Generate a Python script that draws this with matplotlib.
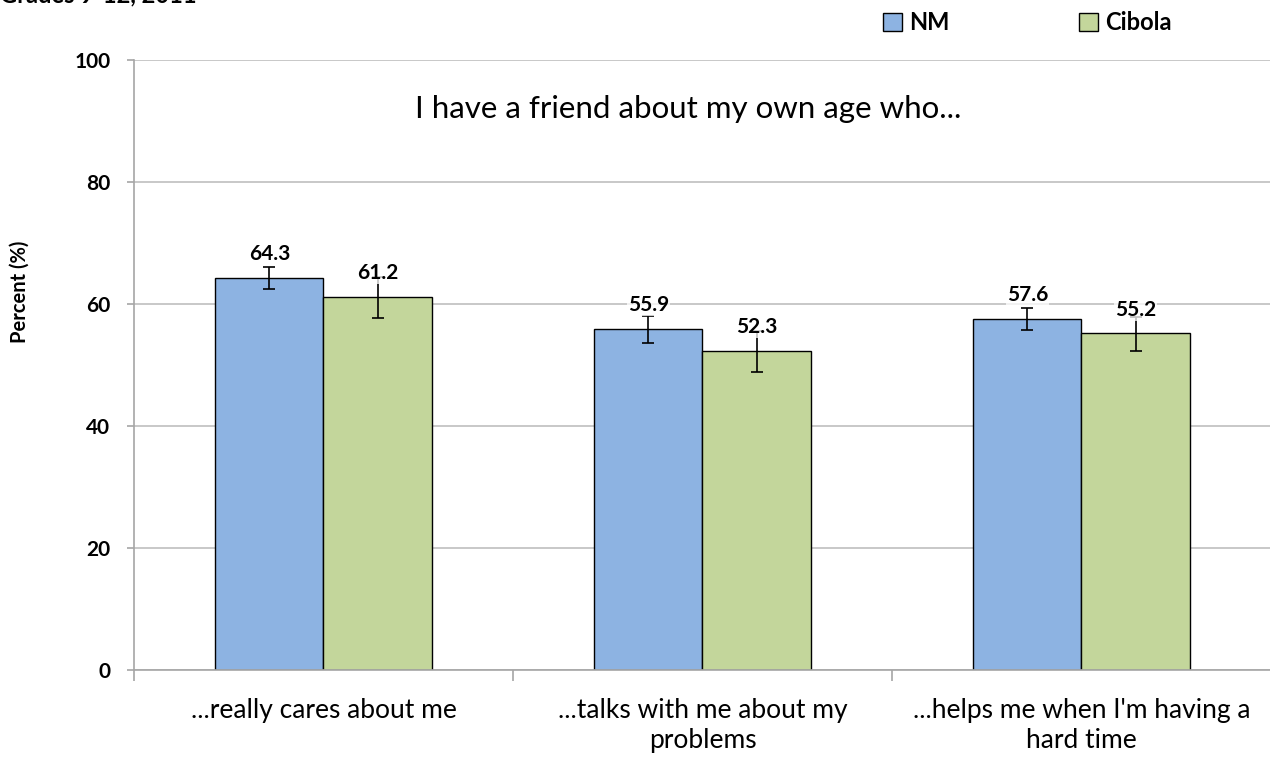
import matplotlib
matplotlib.use("Agg")
import matplotlib.pyplot as plt
from matplotlib.patches import Patch
import numpy as np

plt.rcParams['font.family'] = ['Lato', 'DejaVu Sans']

categories = ["...really cares about me", "...talks with me about my\nproblems",
              "...helps me when I'm having a\nhard time"]
series_names = ["NM", "Cibola"]
nm_values = [64.3, 55.9, 57.6]
cibola_values = [61.2, 52.3, 55.2]
nm_ci_low = [62.5, 53.6, 55.7]
nm_ci_high = [66.1, 58.0, 59.3]
cibola_ci_low = [57.7, 48.9, 52.3]
cibola_ci_high = [64.4, 55.6, 57.9]
y_ticks = [0, 20, 40, 60, 80, 100]

nm_color = "#8db3e2"
cib_color = "#c3d69b"

fig = plt.figure(figsize=(12.7, 7.57), dpi=100)
ax = fig.add_axes([134/1270, 1-670/757, 1137/1270, 610/757])

x = np.arange(len(categories))
w = 0.285
vals = [nm_values, cibola_values]
lows = [nm_ci_low, cibola_ci_low]
highs = [nm_ci_high, cibola_ci_high]
colors = [nm_color, cib_color]
offsets = [-w/2, w/2]
for v, lo, hi, c, off in zip(vals, lows, highs, colors, offsets):
    v = np.array(v); lo = np.array(lo); hi = np.array(hi)
    ax.bar(x + off, v, width=w, color=c, edgecolor="black", linewidth=1.0, zorder=2)
    ax.errorbar(x + off, v, yerr=[v - lo, hi - v], fmt="none", ecolor="black",
                elinewidth=1.2, capsize=4, capthick=1.2, zorder=3)
    for xi, vi in zip(x + off, v):
        ax.annotate(f"{vi:.1f}", (xi, vi), xytext=(0, 17), textcoords="offset points",
                    ha="center", va="center", fontsize=15, fontweight="bold",
                    bbox=dict(boxstyle="square,pad=0.05", fc="white", ec="none", alpha=0.75),
                    zorder=4)

ax.set_xlim(-0.5, len(categories) - 0.5)
ax.set_ylim(0, 100)
ax.set_yticks(y_ticks)
ax.set_yticklabels([str(t) for t in y_ticks], fontsize=15, fontweight="bold")
ax.yaxis.grid(True, color="#bfbfbf", linewidth=1.2, zorder=0)
ax.set_axisbelow(True)

ax.set_xticks(x)
ax.set_xticklabels(categories, fontsize=19, linespacing=1.25)
ax.set_xticks(np.arange(len(categories) + 1) - 0.5, minor=True)
ax.tick_params(axis="x", which="major", length=0, pad=20)
ax.tick_params(axis="x", which="minor", length=8, color="#a6a6a6", width=1.2)
ax.tick_params(axis="y", length=5, color="#a6a6a6", width=1.2, pad=12)

for s in ["top", "right"]:
    ax.spines[s].set_visible(False)
for s in ["left", "bottom"]:
    ax.spines[s].set_color("#a6a6a6")
    ax.spines[s].set_linewidth(1.2)

fig.text(20/1270, 1 - 292/757, "Percent (%)", rotation=90, ha="center", va="center",
         fontsize=14.5, fontweight="bold")

ax.text(0.487, 0.92, "I have a friend about my own age who...", transform=ax.transAxes,
        ha="center", va="center", fontsize=22.5)

fig.text(0.0, 1 - 2/757, "Grades 9-12, 2011", ha="left", va="baseline",
         fontsize=17, fontweight="bold")

handles = [Patch(facecolor=nm_color, edgecolor="black", label="NM"),
           Patch(facecolor=cib_color, edgecolor="black", label="Cibola")]
fig.legend(handles=handles, loc="upper left", bbox_to_anchor=(862/1270, 1 + 10/757),
           ncol=2, frameon=False, handlelength=0.8, handleheight=0.8,
           handletextpad=0.3, columnspacing=5.5, prop=dict(size=17, weight="bold"))

fig.savefig("out.png", dpi=100)
